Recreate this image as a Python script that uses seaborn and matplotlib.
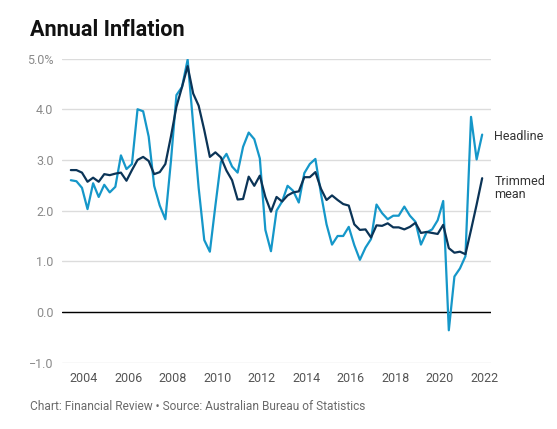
import matplotlib
matplotlib.use("Agg")
import matplotlib.pyplot as plt
import matplotlib.dates as mdates
import matplotlib.ticker as mticker
import matplotlib.transforms as mtransforms
import seaborn as sns
import pandas as pd
import numpy as np

# quarterly, June 2003 to December 2021
quarters = pd.date_range("2003-06-01", periods=75, freq="3MS")

headline = [
    2.60, 2.58, 2.45,
    2.03, 2.54, 2.27, 2.51,
    2.36, 2.47, 3.09, 2.82,
    2.92, 4.00, 3.96, 3.46,
    2.49, 2.10, 1.83, 2.97,
    4.28, 4.44, 4.98, 3.70,
    2.45, 1.42, 1.19, 2.10,
    2.96, 3.12, 2.87, 2.75,
    3.26, 3.54, 3.41, 3.03,
    1.62, 1.20, 2.00, 2.18,
    2.49, 2.39, 2.16, 2.74,
    2.92, 3.02, 2.33, 1.73,
    1.33, 1.50, 1.50, 1.68,
    1.32, 1.03, 1.27, 1.44,
    2.12, 1.95, 1.83, 1.90,
    1.90, 2.08, 1.90, 1.78,
    1.33, 1.57, 1.63, 1.81,
    2.19, -0.36, 0.70, 0.86,
    1.10, 3.85, 3.01, 3.50,
]

trimmed_mean = [
    2.80, 2.80, 2.75,
    2.57, 2.65, 2.57, 2.72,
    2.70, 2.73, 2.75, 2.59,
    2.80, 3.00, 3.06, 2.98,
    2.72, 2.76, 2.92, 3.46,
    4.05, 4.44, 4.85, 4.31,
    4.07, 3.59, 3.06, 3.15,
    3.05, 2.79, 2.60, 2.22,
    2.23, 2.67, 2.49, 2.69,
    2.27, 1.98, 2.27, 2.18,
    2.30, 2.36, 2.38, 2.66,
    2.66, 2.76, 2.43, 2.21,
    2.30, 2.21, 2.13, 2.10,
    1.73, 1.62, 1.63, 1.47,
    1.71, 1.70, 1.75, 1.67,
    1.67, 1.63, 1.68, 1.76,
    1.56, 1.58, 1.56, 1.54,
    1.72, 1.26, 1.17, 1.19,
    1.14, 1.62, 2.12, 2.64,
]

series_names = ["Headline", "Trimmed mean"]
series_colors = ["#1597c9", "#0b3457"]

df = pd.DataFrame({
    "date": np.tile(quarters, 2),
    "value": headline + trimmed_mean,
    "series": np.repeat(series_names, len(quarters)),
})

sns.set_style("white")
plt.rcParams["font.family"] = ["Roboto", "DejaVu Sans"]

fig = plt.figure(figsize=(5.57, 4.29), dpi=100)
ax = fig.add_axes([0.111, 0.1545, 0.7705, 0.709])

ax.set_axisbelow(True)
ax.grid(axis="y", color="#dcdcdc", linewidth=1)
ax.axhline(0, color="black", linewidth=1, zorder=1.5)

sns.lineplot(data=df, x="date", y="value", hue="series",
             palette=dict(zip(series_names, series_colors)),
             linewidth=1.6, legend=False, ax=ax, zorder=3)

ax.set_xlim(pd.Timestamp("2003-01-04"), pd.Timestamp("2022-04-25"))
ax.set_ylim(-1, 5)
ax.set_yticks(np.arange(-1, 5.01, 1))
ax.yaxis.set_major_formatter(mticker.FuncFormatter(
    lambda v, p: f"{v:.1f}%" if v >= 4.99 else f"{v:.1f}".replace("-", "\u2212")))
ax.xaxis.set_major_locator(mdates.YearLocator(2))
ax.xaxis.set_major_formatter(mdates.DateFormatter("%Y"))
ax.set_xlabel("")
ax.set_ylabel("")
ax.tick_params(axis="y", length=0, pad=6, labelsize=9, labelcolor="#8a8a8a")
ax.tick_params(axis="x", length=0, pad=7, labelsize=9, labelcolor="#555555")
sns.despine(ax=ax, left=True, bottom=True)

# end labels
trans = mtransforms.blended_transform_factory(ax.transAxes, ax.transData)
ax.text(1.008, headline[-1] - 0.04, "Headline", transform=trans,
        ha="left", va="center", fontsize=9, color="#333333")
ax.text(1.008, trimmed_mean[-1] + 0.07, "Trimmed\nmean", transform=trans,
        ha="left", va="top", fontsize=9, color="#333333", linespacing=1.05)

fig.text(0.054, 0.916, "Annual Inflation", fontsize=15.6, fontweight="bold",
         color="#111111", ha="left", va="baseline")
fig.text(0.054, 0.044, "Chart: Financial Review \u2022 Source: Australian Bureau of Statistics",
         fontsize=8.6, color="#6a6a6a", ha="left", va="baseline")

fig.savefig("out.png", dpi=100)
